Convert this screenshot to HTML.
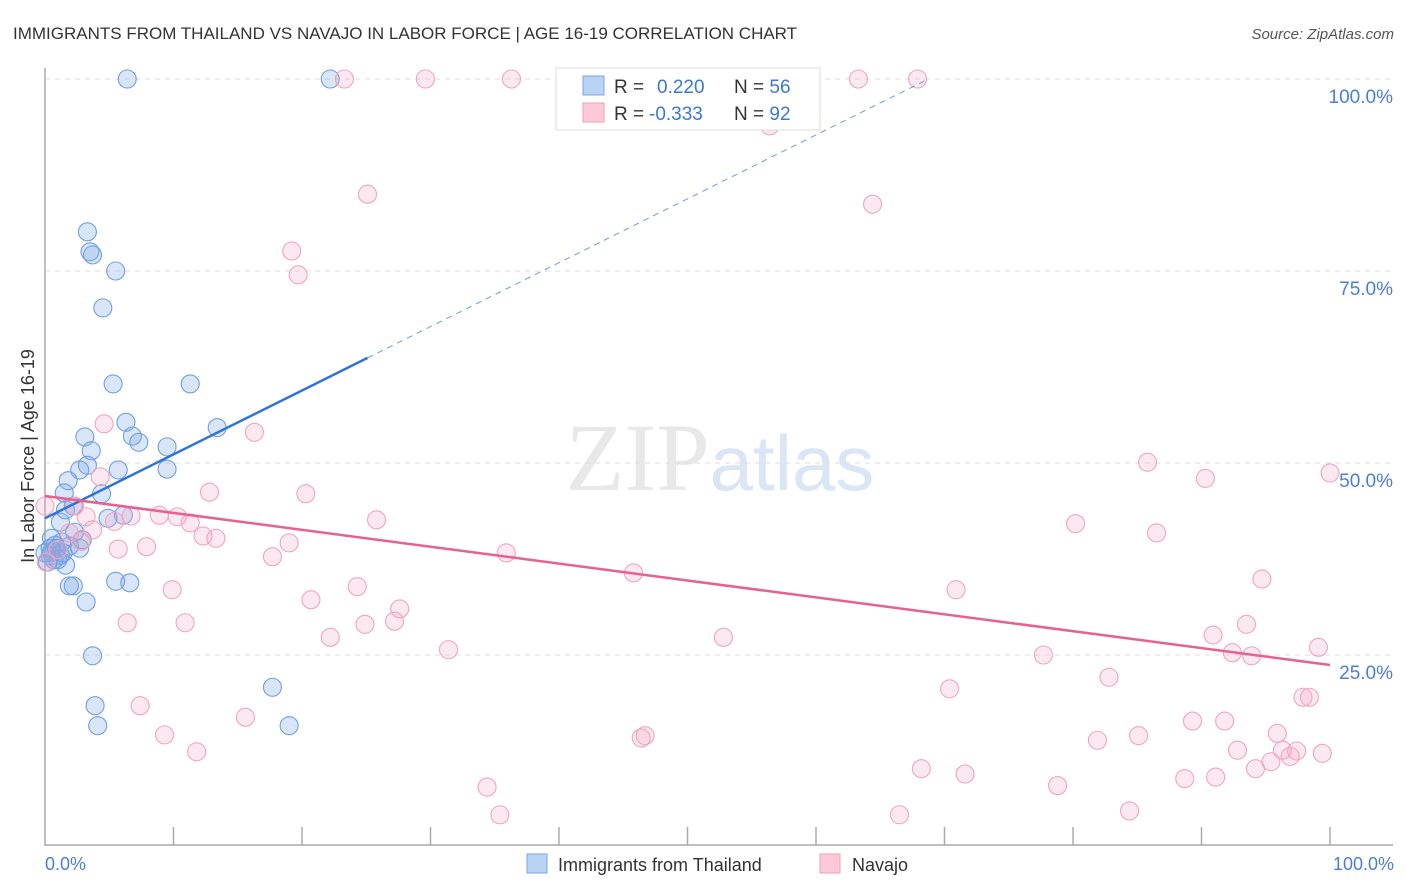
<!DOCTYPE html>
<html><head><meta charset="utf-8"><style>
body{margin:0;background:#fff;font-family:"Liberation Sans",sans-serif}
svg{display:block}
</style></head><body>
<svg id="chart" width="1406" height="892" xmlns="http://www.w3.org/2000/svg" font-family="Liberation Sans, sans-serif">
<text x="13" y="39" font-size="17" fill="#333">IMMIGRANTS FROM THAILAND VS NAVAJO IN LABOR FORCE | AGE 16-19 CORRELATION CHART</text>
<text x="1394" y="39" font-size="15" fill="#555" text-anchor="end" font-style="italic">Source: ZipAtlas.com</text>
<text x="720" y="490" font-size="96" text-anchor="middle" fill="#e8e8e8" font-family="Liberation Serif, serif">ZIP<tspan fill="#dae6f6" font-family="Liberation Sans, sans-serif" font-size="78">atlas</tspan></text>
<g id="grid"></g>
<g id="axes"></g>
<g id="marks"></g>
<text transform="translate(34,456) rotate(-90)" font-size="18" fill="#333" text-anchor="middle">In Labor Force | Age 16-19</text>
<text x="45" y="870" font-size="18" fill="#4a7fd4">0.0%</text>
<text x="1394" y="870" font-size="18" fill="#4a7fd4" text-anchor="end">100.0%</text>
<g>
<rect x="556" y="68" width="264" height="62" fill="#fff" stroke="#ddd"/>
<rect x="583" y="76" width="21" height="19" fill="#b9d3f5" stroke="#7aa6e4"/>
<rect x="583" y="103" width="21" height="19" fill="#fbc9d7" stroke="#ef9fb8"/>
<text x="614" y="93" font-size="19" fill="#333">R = <tspan fill="#3a78d4" x="657">0.220</tspan><tspan fill="#333" x="734">N = </tspan><tspan fill="#3a78d4">56</tspan></text>
<text x="614" y="120" font-size="19" fill="#333">R = <tspan fill="#3a78d4" x="649">-0.333</tspan><tspan fill="#333" x="734">N = </tspan><tspan fill="#3a78d4">92</tspan></text>
</g>
<g>
<rect x="527" y="854" width="20" height="19" fill="#b9d3f5" stroke="#7aa6e4"/>
<text x="558" y="871" font-size="18" fill="#333">Immigrants from Thailand</text>
<rect x="820" y="854" width="20" height="19" fill="#fbc9d7" stroke="#ef9fb8"/>
<text x="852" y="871" font-size="18" fill="#333">Navajo</text>
</g>
</svg>
<script>
const yTicks=[100,75,50,25];
const yTickLabels=["100.0%","75.0%","50.0%","25.0%"];
const thX=[6.4,22.2,3.3,3.5,3.7,5.5,4.5,5.3,11.3,6.3,6.8,7.3,3.1,3.6,13.4,9.5,9.5,5.7,3.3,2.7,1.8,1.5,4.4,2.2,1.6,1.2,6.1,4.9,2.3,2.9,1.9,2.7,1.3,0.8,0.5,0.4,0.7,0.2,1.2,1.6,2.2,1.9,3.2,5.5,6.6,3.7,17.7,3.9,4.1,19.0,0.5,0.9,0,1.4,1.0,0.4];
const thY=[100,100,80.1,77.5,77.1,75.0,70.2,60.3,60.3,55.3,53.5,52.7,53.4,51.6,54.6,52.1,49.2,49.1,49.7,49.1,47.7,46.1,46.0,44.4,43.9,42.3,43.2,42.8,41.0,40.0,39.2,38.9,39.7,39.3,38.4,37.9,37.4,37.1,38.0,36.7,34.0,34.0,31.9,34.6,34.4,24.9,20.8,18.4,15.8,15.8,40.2,38.9,38.3,38.3,37.4,38.9];
const nvX=[23.3,29.6,36.3,63.3,67.9,56.4,25.1,64.4,19.2,19.7,16.3,4.6,85.8,100,90.3,4.3,12.8,20.3,2.3,0,3.2,5.4,6.7,8.9,10.3,11.3,25.8,80.2,86.5,1.9,3.7,2.8,12.3,13.3,5.7,7.9,19.0,17.7,35.9,45.8,94.7,9.9,24.3,70.9,20.7,27.6,6.4,10.9,24.9,27.2,22.2,52.8,90.9,93.5,99.1,31.4,92.4,93.9,77.7,82.8,70.4,97.9,98.4,7.4,15.6,89.3,91.8,9.3,46.7,46.4,81.9,85.1,11.8,95.9,92.8,96.3,99.4,96.9,97.4,95.4,68.2,71.6,94.2,88.7,91.1,78.8,34.4,35.4,66.5,84.4,0.1,1.0];
const nvY=[100,100,100,100,100,93.9,85.0,83.7,77.6,74.5,54.0,55.1,50.1,48.7,48.0,48.2,46.2,46.0,44.4,44.4,43.0,42.4,43.1,43.2,43.0,42.2,42.6,42.1,40.9,40.9,41.3,39.8,40.5,40.2,38.8,39.1,39.6,37.8,38.3,35.7,34.9,33.5,33.9,33.5,32.2,31.0,29.2,29.2,29.0,29.4,27.3,27.3,27.6,29.0,26.0,25.7,25.3,24.9,25.0,22.1,20.6,19.5,19.5,18.4,16.9,16.4,16.4,14.6,14.5,14.2,13.9,14.5,12.4,14.8,12.6,12.6,12.2,11.8,12.5,11.1,10.2,9.5,10.2,8.9,9.1,8.0,7.8,4.2,4.2,4.7,37.1,38.7];
const thTrend=[42.8,126];
const nvTrend=[45.7,23.7];
const X=v=>45+v*12.85, Y=v=>847-v*7.68;
const NS="http://www.w3.org/2000/svg";
function mk(tag,attrs,parent){const e=document.createElementNS(NS,tag);for(const k in attrs)e.setAttribute(k,attrs[k]);parent.appendChild(e);return e;}
const grid=document.getElementById('grid'),axes=document.getElementById('axes'),marks=document.getElementById('marks');
yTicks.forEach((t,i)=>{
 const l=mk('line',{x1:45,x2:1393,y1:Y(t),y2:Y(t),stroke:'#ddd','stroke-dasharray':'5,5'},grid);
 
 
 const tx=mk('text',{x:1393,y:Y(t)+24,'font-size':19,fill:'#4a7fd4','text-anchor':'end'},grid);
 tx.textContent=yTickLabels[i];
 
 
});
const ya=mk('line',{x1:45,x2:45,y1:68,y2:846,stroke:'#aaa','stroke-width':1.5},axes);


const xa=mk('line',{x1:45,x2:1393,y1:845,y2:845,stroke:'#aaa','stroke-width':1.5},axes);


for(let i=1;i<=10;i++){
 const tk=mk('line',{x1:X(i*10),x2:X(i*10),y1:827,y2:845,stroke:'#aaa','stroke-width':1.5},axes);
 
 
}
thX.forEach((x,i)=>{
 const c=mk('circle',{cx:X(x),cy:Y(thY[i]),r:9,fill:'rgba(120,165,235,0.28)',stroke:'#6f9fe0','stroke-width':1.1},marks);
 
 
});
nvX.forEach((x,i)=>{
 const c=mk('circle',{cx:X(x),cy:Y(nvY[i]),r:9,fill:'rgba(245,165,195,0.25)',stroke:'#efa5bd','stroke-width':1.1},marks);
 
 
});
const tyAt=x=>thTrend[0]+(thTrend[1]-thTrend[0])*x/100;
const xEnd=(100-thTrend[0])/(thTrend[1]-thTrend[0])*100;
const t1=mk('line',{x1:X(0),y1:Y(tyAt(0)),x2:X(25.1),y2:Y(tyAt(25.1)),stroke:'#2f74d6','stroke-width':2.5},marks);


const t2=mk('line',{x1:X(25.1),y1:Y(tyAt(25.1)),x2:X(xEnd),y2:Y(100),stroke:'#6b9be0','stroke-width':1,'stroke-dasharray':'6,5'},marks);


const t3=mk('line',{x1:X(0),y1:Y(nvTrend[0]),x2:X(100),y2:Y(nvTrend[1]),stroke:'#e8608f','stroke-width':2.5},marks);


</script>
</body></html>
